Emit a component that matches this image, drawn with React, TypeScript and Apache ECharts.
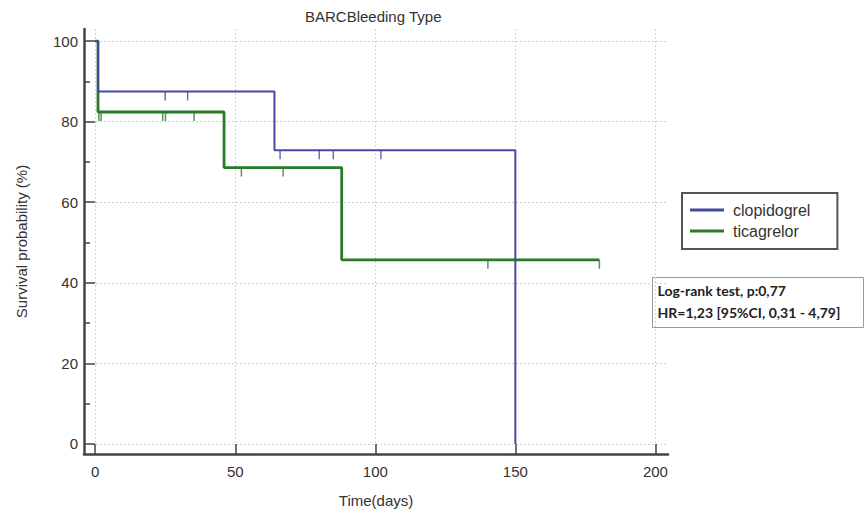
import React, { useEffect, useRef } from "react";
import * as echarts from "echarts";

const title = "BARCBleeding Type";
const xTicks = [0, 50, 100, 150, 200];
const yTicks = [0, 20, 40, 60, 80, 100];
const yMinorTicks = [10, 30, 50, 70, 90];

// Kaplan-Meier steps: [time (days), survival (%)]
const clopidogrelSteps: [number, number][] = [
  [0, 100],
  [1, 87.5],
  [64, 72.9],
  [150, 0],
];
const ticagrelorSteps: [number, number][] = [
  [0, 100],
  [1, 82.4],
  [46, 68.6],
  [88, 45.7],
  [180, 45.7],
];
// censored times
const clopidogrelCensored = [25, 33, 66, 80, 85, 102];
const ticagrelorCensored = [1.3, 2.1, 24.1, 25.1, 35.3, 52.2, 67.1, 140.2, 180];

const statLines = ["Log-rank test, p:0,77", "HR=1,23 [95%CI, 0,31 - 4,79]"];

const BLUE = "#4848a0";
const GREEN = "#2a7a2a";

function levelAt(steps: [number, number][], t: number): number {
  let v = steps[0][1];
  for (const [x, y] of steps) {
    if (x <= t) v = y;
  }
  return v;
}

export default function App() {
  const ref = useRef<HTMLDivElement>(null);
  useEffect(() => {
    document.body.style.margin = "0";
    if (!ref.current) return;
    const chart = echarts.init(ref.current, null, { renderer: "svg" });
    const font = "Liberation Sans, Arial, sans-serif";
    const gridLine = { show: true, lineStyle: { color: "#d2d2d2", type: [2, 2] as any, width: 1 } };
    chart.setOption({
      animation: false,
      backgroundColor: "#ffffff",
      title: {
        text: title,
        left: 300,
        top: 4,
        textStyle: { fontFamily: font, fontSize: 15, fontWeight: "normal", color: "#333" },
      },
      grid: { left: 84, top: 29, width: 584, height: 425, containLabel: false },
      legend: {
        orient: "vertical",
        left: 682,
        top: 193,
        data: ["clopidogrel", "ticagrelor"],
        icon: "rect",
        itemWidth: 34,
        itemHeight: 3,
        itemGap: 5,
        padding: [9, 27, 10, 8],
        borderColor: "#555",
        borderWidth: 2,
        textStyle: { fontFamily: font, fontSize: 16, color: "#333", padding: [0, 0, 0, 4] },
      },
      xAxis: {
        type: "value",
        min: -4,
        max: 204.5,
        name: "Time(days)",
        nameLocation: "middle",
        nameGap: 39,
        nameTextStyle: { fontFamily: font, fontSize: 15, color: "#333" },
        axisLine: { show: true, onZero: false, lineStyle: { color: "#444", width: 2.5 } },
        axisTick: { show: true, inside: true, length: 10, customValues: xTicks, lineStyle: { color: "#444", width: 1.5 } },
        axisLabel: { customValues: xTicks, margin: 10, fontFamily: font, fontSize: 15, color: "#333" },
        splitLine: gridLine,
      },
      yAxis: [
        {
          type: "value",
          min: -2.5,
          max: 103,
          name: "Survival probability (%)",
          nameLocation: "middle",
          nameGap: 55,
          nameTextStyle: { fontFamily: font, fontSize: 15, color: "#333" },
          axisLine: { show: true, onZero: false, lineStyle: { color: "#444", width: 2.5 } },
          axisTick: { show: true, inside: true, length: 11, customValues: yTicks, lineStyle: { color: "#444", width: 1.5 } },
          axisLabel: { customValues: yTicks, margin: 6, fontFamily: font, fontSize: 15, color: "#333" },
          splitLine: gridLine,
        },
        {
          type: "value",
          min: -2.5,
          max: 103,
          position: "left",
          offset: 0,
          axisLine: { show: false, onZero: false },
          axisTick: { show: true, inside: true, length: 6, customValues: yMinorTicks, lineStyle: { color: "#444", width: 1.5 } },
          axisLabel: { show: false },
          splitLine: { show: false },
        },
      ],
      series: [
        {
          name: "ticagrelor",
          type: "line",
          step: "end",
          data: ticagrelorSteps,
          showSymbol: false,
          symbol: "none",
          color: GREEN,
          lineStyle: { color: GREEN, width: 2.8 },
          z: 2,
        },
        {
          name: "clopidogrel",
          type: "line",
          step: "end",
          data: clopidogrelSteps,
          showSymbol: false,
          symbol: "none",
          color: BLUE,
          lineStyle: { color: BLUE, width: 2 },
          z: 3,
        },
        {
          name: "ticagrelor censored",
          type: "scatter",
          data: ticagrelorCensored.map((t) => [t, levelAt(ticagrelorSteps, t)]),
          symbol: "rect",
          symbolSize: [1.5, 9],
          symbolOffset: [0, 4.5],
          itemStyle: { color: GREEN },
          z: 2,
        },
        {
          name: "clopidogrel censored",
          type: "scatter",
          data: clopidogrelCensored.map((t) => [t, levelAt(clopidogrelSteps, t)]),
          symbol: "rect",
          symbolSize: [1.5, 9],
          symbolOffset: [0, 4.5],
          itemStyle: { color: BLUE },
          z: 3,
        },
      ],
      graphic: [
        {
          type: "group",
          left: 652,
          top: 277,
          children: [
            {
              type: "rect",
              shape: { x: 0, y: 0, width: 211, height: 50 },
              style: { fill: "#fff", stroke: "#999", lineWidth: 1 },
            },
            {
              type: "text",
              x: 5,
              y: 13,
              style: {
                text: statLines[0],
                font: "bold 14px Lato, 'Liberation Sans', sans-serif",
                fill: "#222",
                verticalAlign: "middle",
              },
            },
            {
              type: "text",
              x: 5,
              y: 35,
              style: {
                text: statLines[1],
                font: "bold 14px Lato, 'Liberation Sans', sans-serif",
                fill: "#222",
                verticalAlign: "middle",
              },
            },
          ],
        },
      ],
    });
    return () => chart.dispose();
  }, []);
  return <div ref={ref} style={{ width: 867, height: 517 }} />;
}
